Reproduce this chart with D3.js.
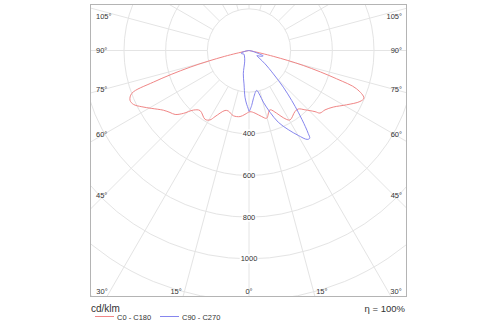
<!DOCTYPE html>
<html>
<head>
<meta charset="utf-8">
<script src="https://cdn.jsdelivr.net/npm/d3@7/dist/d3.min.js"></script>
<style>
  html, body { margin: 0; padding: 0; background: #fff; }
  svg { display: block; font-family: "Liberation Sans", Arial, sans-serif; }
</style>
</head>
<body>
<svg id="chart" width="500" height="325"></svg>
<script>
// Luminous intensity distribution, cd/klm, gamma angle measured from nadir
// (negative = left half-plane, positive = right half-plane)
const redGamma = [-80, -78, -76.5, -74.2, -71.7, -69.9, -67.3, -65, -62.3, -59.2, -55.1, -51.9, -49.1, -46.2, -43, -39.2, -32.5, -29.3, -27.2, -21.8, -18.9, -13.5, -7.7, -3.6, 0.9, 5.5, 10.9, 14.6, 19.4, 23.8, 27, 30.5, 36.9, 40.1, 43.3, 47.2, 48.6, 52, 56.1, 60.9, 65.3, 67.5, 70.4, 72.1, 74.6, 76.5, 78, 80];
const redIntensity = [0, 20, 120, 294, 483, 599, 619, 612, 581, 543, 501, 482, 469, 436, 391, 372, 392, 382, 357, 310, 307, 322, 320, 307, 294, 302, 323, 336, 302, 329, 362, 387, 367, 367, 391, 432, 454, 463, 487, 536, 586, 597, 548, 442, 270, 120, 20, 0];

const blueGamma = [-90, -80, -72, -66, -55, -40, -22, -13.7, -8.5, -4.9, -2.5, -0.7, 0, 2.8, 5.1, 10.9, 13.7, 15.5, 18.8, 22.2, 26.4, 30.1, 33.2, 34.7, 35.5, 36.5, 38.6, 40.5, 43.1, 46.2, 50.3, 53, 57, 63, 69, 73, 78, 90];
const blueIntensity = [0, 15, 40, 38, 30, 34, 55, 115, 162, 225, 258, 280, 292, 264, 233, 195, 222, 257, 313, 372, 424, 471, 510, 512, 490, 455, 379, 316, 241, 162, 100, 66, 45, 60, 73, 40, 15, 0];

const ringValues = [200, 400, 600, 800, 1000, 1200, 1400, 1600];
const ringLabelValues = [400, 600, 800, 1000];
const rayAngles = d3.range(0, 181, 15);
const angleLabelValues = [0, 15, 30, 45, 60, 75, 90, 105];
const seriesNames = ["C0 - C180", "C90 - C270"];
const seriesColors = ["#f08686", "#8686ee"];
const unitLabel = "cd/klm";
const efficiencyLabel = "η = 100%";

const svg = d3.select("#chart");
const box = { x0: 90, y0: 4, x1: 407, y1: 297 };
const cx = 249, cy = 50.5;
const r = d3.scaleLinear().domain([0, 1200]).range([0, 250]);
const rad = g => g * Math.PI / 180;

svg.append("defs").append("clipPath").attr("id", "plotClip")
  .append("rect")
  .attr("x", box.x0).attr("y", box.y0)
  .attr("width", box.x1 - box.x0).attr("height", box.y1 - box.y0);

const plot = svg.append("g").attr("clip-path", "url(#plotClip)");
const grid = plot.append("g").attr("transform", `translate(${cx},${cy})`);

// concentric rings
grid.selectAll("circle.ring").data(ringValues).join("circle")
  .attr("class", "ring")
  .attr("r", d => r(d))
  .attr("fill", "none")
  .attr("stroke", "#e4e4e4")
  .attr("stroke-width", 1);

// radial rays every 15 degrees, starting at the innermost ring
const rays = [];
rayAngles.forEach(a => {
  rays.push(a);
  if (a !== 0 && a !== 180) rays.push(-a);
});
grid.selectAll("line.ray").data(rays).join("line")
  .attr("class", "ray")
  .attr("x1", d => r(ringValues[0]) * Math.sin(rad(d)))
  .attr("y1", d => r(ringValues[0]) * Math.cos(rad(d)))
  .attr("x2", d => r(1800) * Math.sin(rad(d)))
  .attr("y2", d => r(1800) * Math.cos(rad(d)))
  .attr("stroke", "#e4e4e4")
  .attr("stroke-width", 1);

// intensity curves
const radial = d3.lineRadial()
  .angle(d => Math.PI - rad(d[0]))
  .radius(d => r(d[1]))
  .curve(d3.curveCatmullRom.alpha(0.5));

const curves = plot.append("g").attr("transform", `translate(${cx},${cy})`);
[[redGamma, redIntensity], [blueGamma, blueIntensity]].forEach(([g, v], i) => {
  curves.append("path")
    .datum(g.map((a, k) => [a, v[k]]))
    .attr("d", radial)
    .attr("fill", "none")
    .attr("stroke", seriesColors[i])
    .attr("stroke-width", 1);
});

// ring value labels along the nadir ray
const ringLab = svg.append("g");
ringLabelValues.forEach(v => {
  const y = cy + r(v);
  const t = ringLab.append("text")
    .attr("x", cx).attr("y", y)
    .attr("text-anchor", "middle")
    .attr("dominant-baseline", "central")
    .attr("font-size", 7.5)
    .attr("fill", "#333")
    .text(v);
  const bb = t.node().getBBox();
  ringLab.insert("rect", () => t.node())
    .attr("x", bb.x - 1).attr("y", bb.y)
    .attr("width", bb.width + 2).attr("height", bb.height)
    .attr("fill", "#fff");
});

// angle labels at the frame
const angLab = svg.append("g").attr("font-size", 7.5).attr("fill", "#333");
angleLabelValues.forEach(a => {
  [-1, 1].forEach(side => {
    if (a === 0 && side === 1) return;
    const txt = a + "°";
    if (a >= 45) {
      const y = a === 90 ? cy : Math.max(box.y0 + 12, cy + 145 / Math.tan(rad(a)));
      angLab.append("text")
        .attr("x", side < 0 ? box.x0 + 6 : box.x1 - 5)
        .attr("y", y)
        .attr("text-anchor", side < 0 ? "start" : "end")
        .attr("dominant-baseline", "central")
        .text(txt);
    } else {
      const x = Math.min(box.x1 - 11, Math.max(box.x0 + 12, cx + side * 272 * Math.tan(rad(a))));
      angLab.append("text")
        .attr("x", x)
        .attr("y", box.y1 - 5.5)
        .attr("text-anchor", "middle")
        .attr("dominant-baseline", "central")
        .text(txt);
    }
  });
});

// frame
svg.append("rect")
  .attr("x", box.x0 + 0.5).attr("y", box.y0 + 0.5)
  .attr("width", box.x1 - box.x0 - 1).attr("height", box.y1 - box.y0 - 1)
  .attr("fill", "none")
  .attr("stroke", "#b4b4b4")
  .attr("stroke-width", 1);

// footer: unit, efficiency, legend
svg.append("text").attr("x", 91).attr("y", 312)
  .attr("font-size", 10).attr("fill", "#333").text(unitLabel);
svg.append("text").attr("x", 405).attr("y", 311.5)
  .attr("text-anchor", "end")
  .attr("font-size", 9.5).attr("fill", "#333").text(efficiencyLabel);

const legendX = [95, 160];
seriesNames.forEach((name, i) => {
  const g = svg.append("g").attr("transform", `translate(${legendX[i]},316)`);
  g.append("line").attr("x1", 0).attr("x2", 19).attr("y1", 0.5).attr("y2", 0.5)
    .attr("stroke", seriesColors[i]).attr("stroke-width", 1);
  g.append("text").attr("x", 22).attr("y", 3.5)
    .attr("font-size", 7.5).attr("fill", "#333").text(name);
});
</script>
</body>
</html>
